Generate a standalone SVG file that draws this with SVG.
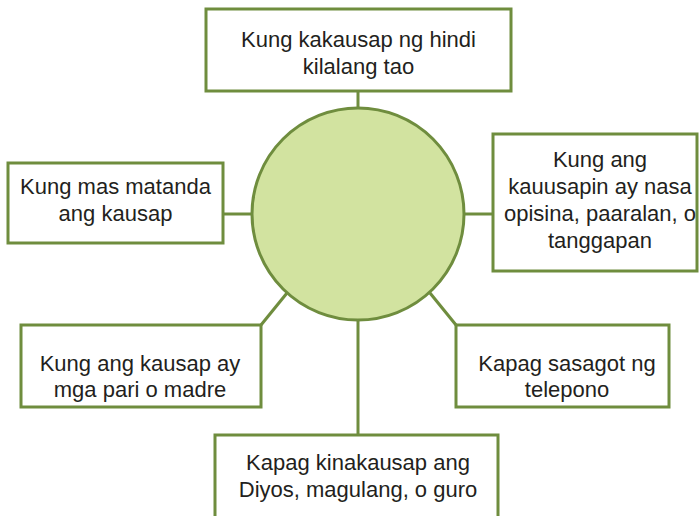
<svg xmlns="http://www.w3.org/2000/svg" width="699" height="516" viewBox="0 0 699 516">
<style>
.box{fill:#ffffff;stroke:#6f8d3e;stroke-width:3}
.hub{fill:#d2e3a0;stroke:#6f8d3e;stroke-width:3}
.con{stroke:#6f8d3e;stroke-width:3;fill:none}
text{font-family:"Liberation Sans",Arial,sans-serif;font-size:22px;fill:#231f20;text-anchor:middle}
</style>
<rect width="699" height="516" fill="#ffffff"/>
<g id="connectors">
<line class="con" x1="358" y1="90" x2="358" y2="108"/>
<line class="con" x1="223" y1="214" x2="252" y2="214"/>
<line class="con" x1="464" y1="214" x2="493" y2="214"/>
<line class="con" x1="261" y1="325" x2="287" y2="293"/>
<line class="con" x1="456" y1="325" x2="430" y2="293"/>
<line class="con" x1="358" y1="320" x2="358" y2="435"/>
</g>
<g id="hub"><circle class="hub" cx="358" cy="214" r="106"/></g>
<g id="top">
<rect class="box" x="206" y="9" width="305" height="82"/>
<text x="358.5" y="47">Kung kakausap ng hindi</text>
<text x="358.5" y="74">kilalang tao</text>
</g>
<g id="left">
<rect class="box" x="8" y="163" width="215" height="80"/>
<text x="115.5" y="194">Kung mas matanda</text>
<text x="115.5" y="221">ang kausap</text>
</g>
<g id="right">
<rect class="box" x="493" y="134" width="204" height="137"/>
<text x="600" y="167">Kung ang</text>
<text x="600" y="194">kauusapin ay nasa</text>
<text x="600" y="221">opisina, paaralan, o</text>
<text x="600" y="248">tanggapan</text>
</g>
<g id="bottom-left">
<rect class="box" x="21" y="325" width="240" height="82"/>
<text x="140" y="371">Kung ang kausap ay</text>
<text x="140" y="397">mga pari o madre</text>
</g>
<g id="bottom-right">
<rect class="box" x="456" y="325" width="213" height="82"/>
<text x="567" y="371">Kapag sasagot ng</text>
<text x="567" y="397">telepono</text>
</g>
<g id="bottom">
<rect class="box" x="215" y="435" width="283" height="100"/>
<text x="358" y="470">Kapag kinakausap ang</text>
<text x="358" y="497">Diyos, magulang, o guro</text>
</g>
</svg>
